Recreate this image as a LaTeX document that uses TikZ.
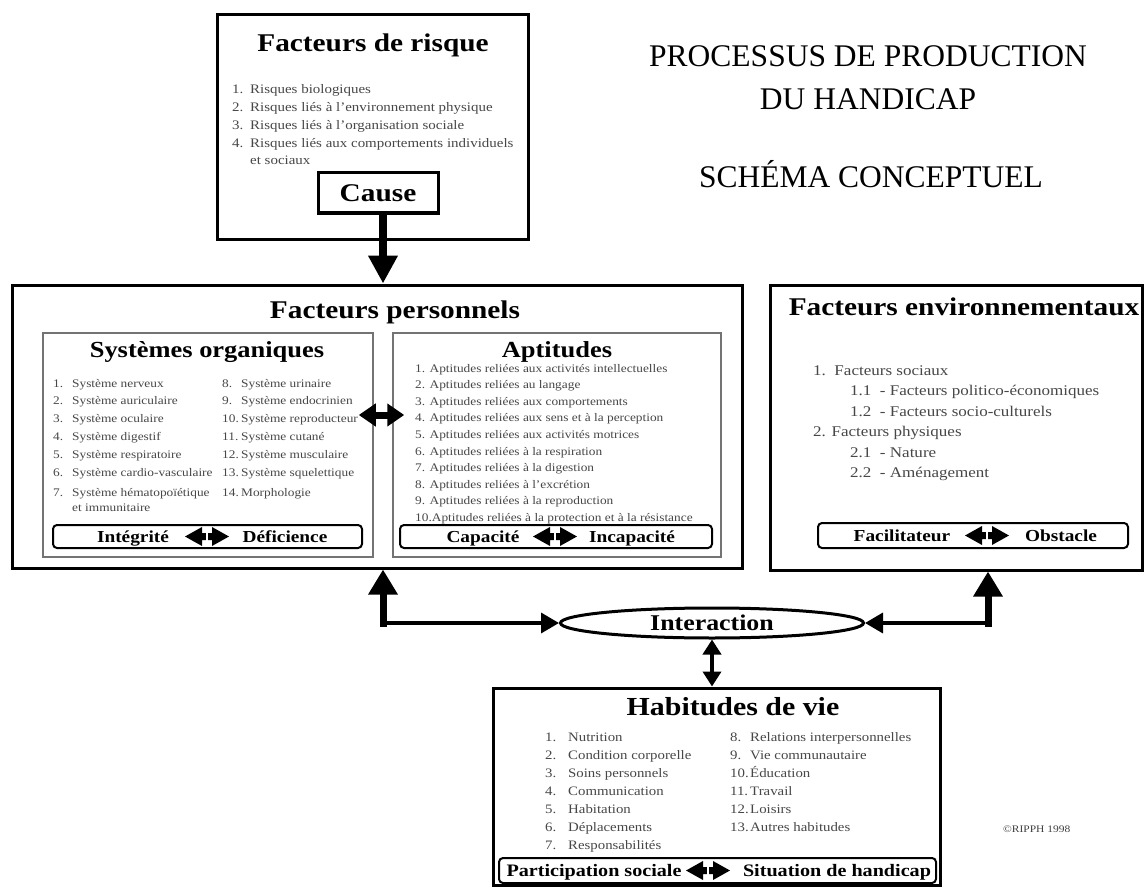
\documentclass[tikz,border=0pt]{standalone}
\usepackage{fontspec}
\setmainfont{Liberation Serif}
\newfontfamily\wf{Liberation Serif}[FakeStretch=1.15]
\usetikzlibrary{shapes.geometric,arrows.meta}
\newcommand\fsz[1]{\fontsize{#1}{#1}\selectfont}
\tikzset{
  box/.style={draw, line width=3, inner sep=0},
  inbox/.style={draw=black!55, line width=1.5, inner sep=0},
  lab/.style={draw, line width=2, rounded corners=4, inner sep=0},
  ttl/.style={inner sep=0, anchor=base, font=\wf\bfseries\fsz{25.5}},
  lbt/.style={inner sep=0, anchor=base, font=\wf\bfseries\fsz{16.8}},
  li/.style={inner sep=0, anchor=base west, text=black!72},
  hdr/.style={inner sep=0, anchor=base, font=\fsz{31.5}},
  dbl/.pic={
    \fill (-22,0) -- (-5,-9.5) -- (-5,-3.5) -- (5,-3.5) -- (5,-9.5) -- (22,0)
          -- (5,9.5) -- (5,3.5) -- (-5,3.5) -- (-5,9.5) -- cycle;
    \draw[white, line width=1.4] (0,-10) -- (0,10);
  },
  fatdbl/.style={line width=7, {Triangle[width=22pt,length=17pt]}-{Triangle[width=22pt,length=17pt]}},
  bigtip/.style={-{Triangle[width=28pt,length=25pt]}},
  smalltip/.style={-{Triangle[width=20pt,length=18pt]}}
}
\begin{document}
\begin{tikzpicture}[x=1pt,y=-1pt]
\fill[white] (0,0) rectangle (1144,888);
\useasboundingbox (0,0) rectangle (1144,888);

% ---------- header ----------
\node[hdr] (h1) at (868,67) {PROCESSUS DE PRODUCTION};
\node[hdr] (h2) at (868,110) {DU HANDICAP};
\node[hdr] (h3) at (871,188) {SCHÉMA CONCEPTUEL};

% ---------- Facteurs de risque ----------
\node[box, minimum width=311, minimum height=224] (risk) at (372.5,127) {};
\node[ttl] (riskT) at (373,52) {Facteurs de risque};
\foreach \t [count=\i] in {Risques biologiques, Risques liés à l’environnement physique, Risques liés à l’organisation sociale, Risques liés aux comportements individuels}{
  \node[li, font=\wf\fsz{13}] (rkn\i) at (232,{94+17.7*(\i-1)}) {\i.};
  \node[li, font=\wf\fsz{13}] (rk\i) at (250,{94+17.7*(\i-1)}) {\t};
}
\node[li, font=\wf\fsz{13}] (rk5) at (250,164.8) {et sociaux};
\node[box, minimum width=120, minimum height=40] (cause) at (378,193) {};
\node[ttl] (causeT) at (378,202) {Cause};

% ---------- Facteurs personnels ----------
\node[box, minimum width=730, minimum height=283] (fp) at (377,426.5) {};
\node[ttl] (fpT) at (395,318) {Facteurs personnels};

\node[inbox, minimum width=330, minimum height=224] (sys) at (208,445) {};
\node[ttl, font=\wf\bfseries\fsz{23}] (sysT) at (207,357) {Systèmes organiques};
\foreach \n/\t/\y in {1/Système nerveux/387, 2/Système auriculaire/404.8, 3/Système oculaire/422.6, 4/Système digestif/440.4, 5/Système respiratoire/458.2, 6/Système cardio-vasculaire/476, 7/Système hématopoïétique/496}{
  \node[li, font=\wf\fsz{11.6}] (son\n) at (53,\y) {\n.};
  \node[li, font=\wf\fsz{11.6}] (so\n) at (72,\y) {\t};
}
\node[li, font=\wf\fsz{11.6}] (so7b) at (72,511) {et immunitaire};
\foreach \n/\t/\y in {8/Système urinaire/387, 9/Système endocrinien/404.8, 10/Système reproducteur/422.6, 11/Système cutané/440.4, 12/Système musculaire/458.2, 13/Système squelettique/476, 14/Morphologie/496}{
  \node[li, font=\wf\fsz{11.6}] (son\n) at (222,\y) {\n.};
  \node[li, font=\wf\fsz{11.6}] (so\n) at (241,\y) {\t};
}
\node[lab, minimum width=309, minimum height=23] (integ) at (207.5,536.5) {};
\node[lbt] (integA) at (133,542.3) {Intégrité};
\node[lbt] (integB) at (285,542.3) {Déficience};
\pic at (207,536.5) {dbl};

\node[inbox, minimum width=328, minimum height=224] (apt) at (557,445) {};
\node[ttl, font=\wf\bfseries\fsz{23}] (aptT) at (557,357) {Aptitudes};
\foreach \t [count=\i] in {1. Aptitudes reliées aux activités intellectuelles, 2. Aptitudes reliées au langage, 3. Aptitudes reliées aux comportements, 4. Aptitudes reliées aux sens et à la perception, 5. Aptitudes reliées aux activités motrices, 6. Aptitudes reliées à la respiration, 7. Aptitudes reliées à la digestion, 8. Aptitudes reliées à l’excrétion, 9. Aptitudes reliées à la reproduction, 10.Aptitudes reliées à la protection et à la résistance}{
  \node[li, font=\wf\fsz{11.6}] (ap\i) at (415,{372+16.6*(\i-1)}) {\t};
}
\node[lab, minimum width=312, minimum height=23] (capac) at (556,536.5) {};
\node[lbt] (capacA) at (483,542.3) {Capacité};
\node[lbt] (capacB) at (632,542.3) {Incapacité};
\pic at (555,536.5) {dbl};

\coordinate (m) at (0,415);
\draw[fatdbl, shorten <=-15pt, shorten >=-12pt] (sys.east |- m) -- (apt.west |- m);

% ---------- Facteurs environnementaux ----------
\node[box, minimum width=372, minimum height=285] (env) at (956,427.5) {};
\node[ttl] (envT) at (964,315) {Facteurs environnementaux};
\node[li, font=\wf\fsz{14.8}] (en1) at (813,375) {1.\ \ Facteurs sociaux};
\node[li, font=\wf\fsz{14.8}] (en2) at (850,395.5) {1.1\ \ - Facteurs politico-économiques};
\node[li, font=\wf\fsz{14.8}] (en3) at (850,416) {1.2\ \ - Facteurs socio-culturels};
\node[li, font=\wf\fsz{14.8}] (en4) at (813,436.5) {2. Facteurs physiques};
\node[li, font=\wf\fsz{14.8}] (en5) at (850,457) {2.1\ \ - Nature};
\node[li, font=\wf\fsz{14.8}] (en6) at (850,477.5) {2.2\ \ - Aménagement};
\node[lab, minimum width=310, minimum height=25] (facil) at (973,535.5) {};
\node[lbt] (facilA) at (902,541.5) {Facilitateur};
\node[lbt] (facilB) at (1061,541.5) {Obstacle};
\pic at (987,535.5) {dbl};

% ---------- Interaction ----------
\node[draw, ellipse, line width=3, minimum width=303, minimum height=30, inner sep=0,
      font=\wf\bfseries\fsz{22.5}] (inter) at (712,623) {Interaction};

% ---------- Habitudes de vie ----------
\node[box, minimum width=447, minimum height=197] (hab) at (716.5,786.5) {};
\node[ttl, font=\wf\bfseries\fsz{26}] (habT) at (733,715) {Habitudes de vie};
\foreach \n/\t [count=\i] in {1/Nutrition, 2/Condition corporelle, 3/Soins personnels, 4/Communication, 5/Habitation, 6/Déplacements, 7/Responsabilités}{
  \node[li, font=\wf\fsz{12.9}] (hbn\n) at (545,{741+18*(\i-1)}) {\n.};
  \node[li, font=\wf\fsz{12.9}] (hb\n) at (568,{741+18*(\i-1)}) {\t};
}
\foreach \n/\t [count=\i] in {8/Relations interpersonnelles, 9/Vie communautaire, 10/Éducation, 11/Travail, 12/Loisirs, 13/Autres habitudes}{
  \node[li, font=\wf\fsz{12.9}] (hbn\n) at (730,{741+18*(\i-1)}) {\n.};
  \node[li, font=\wf\fsz{12.9}] (hb\n) at (750,{741+18*(\i-1)}) {\t};
}
\node[lab, minimum width=437, minimum height=25] (part) at (717.5,870.5) {};
\node[lbt, font=\wf\bfseries\fsz{17.5}] (partA) at (594,876.4) {Participation sociale};
\node[lbt, font=\wf\bfseries\fsz{17.5}] (partB) at (837,876.4) {Situation de handicap};
\pic at (708,870.5) {dbl};

\node[inner sep=0, anchor=base west, font=\wf\fsz{10}, text=black!75] (copy) at (1003,832) {©RIPPH 1998};

% ---------- connectors ----------
\draw[line width=8, -{Triangle[width=28pt,length=28pt]}]
  ([xshift=5pt]cause.south) -- ([xshift=5pt]cause.south |- fp.north);

\coordinate (cl) at (383,623);
\coordinate (cr) at (988,623);
\draw[line width=3.5, smalltip] (cl) -- (inter.west);
\draw[line width=7, line cap=rect, bigtip] (cl) -- (cl |- fp.south);
\draw[line width=3.5, smalltip] (cr) -- (inter.east);
\draw[line width=7, line cap=rect, bigtip] (cr) -- (cr |- env.south);
\draw[line width=4, {Triangle[width=18pt,length=15pt]}-{Triangle[width=18pt,length=15pt]}]
  (inter.south) -- (inter.south |- hab.north);
\end{tikzpicture}
\end{document}
